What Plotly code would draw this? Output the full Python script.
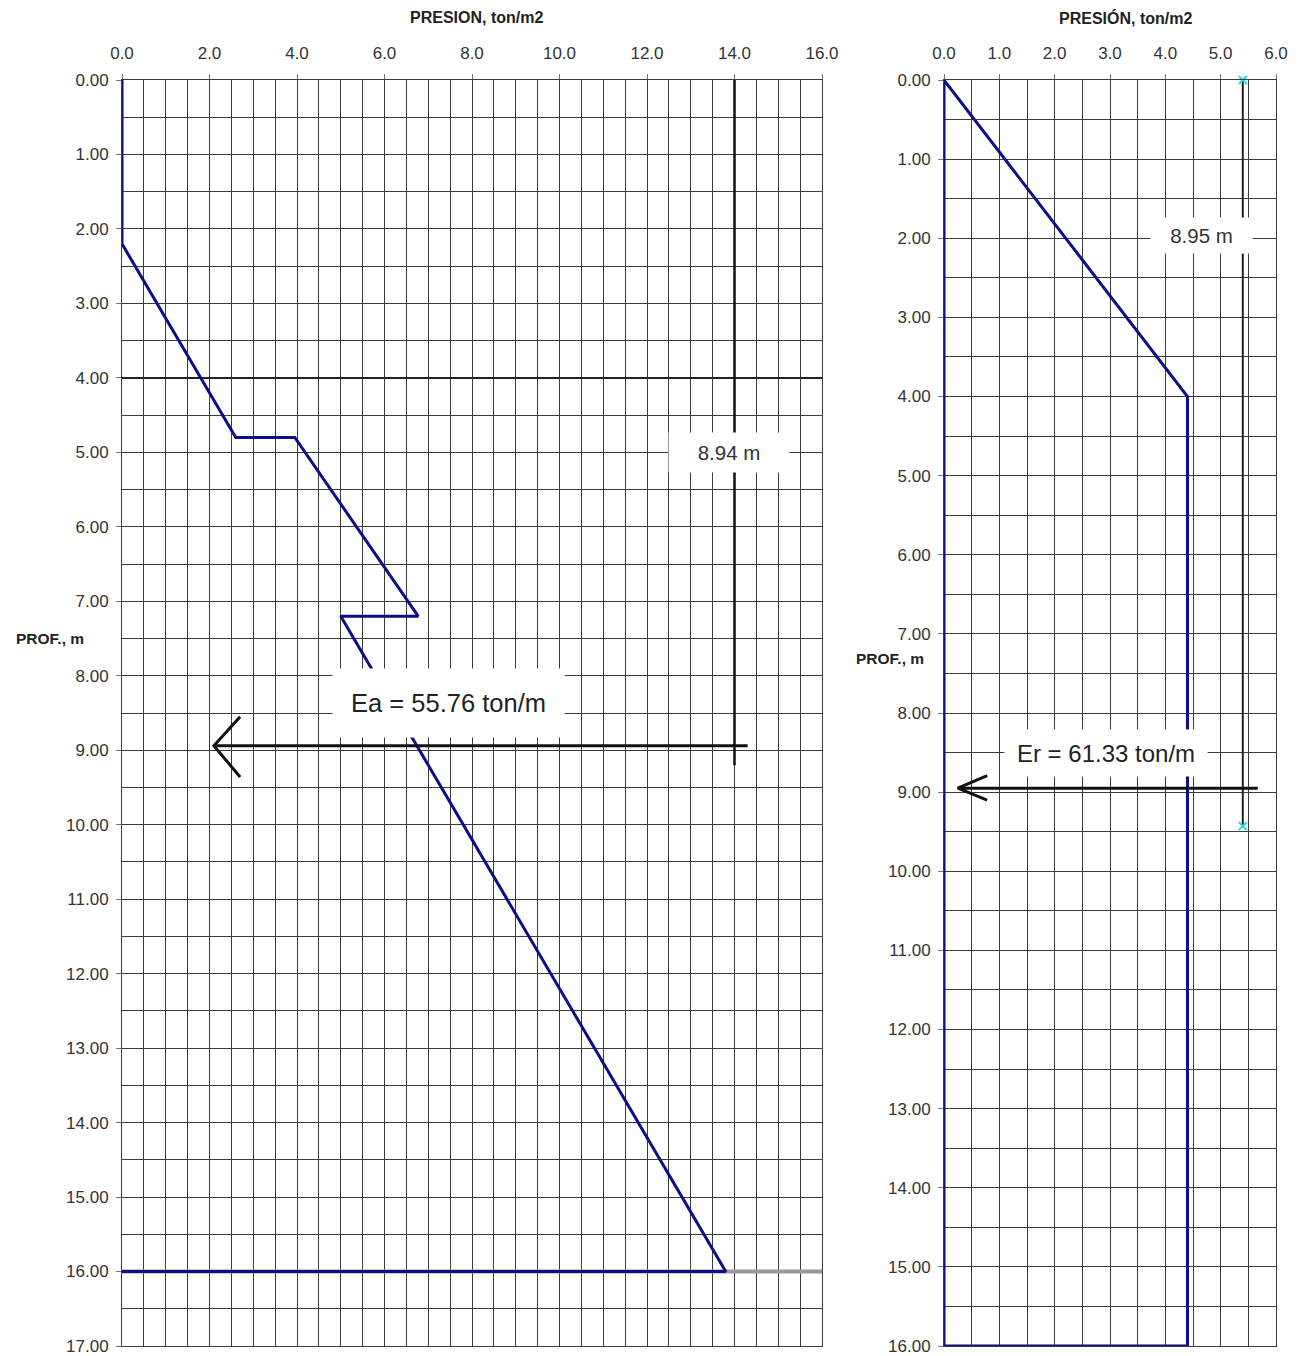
import plotly.graph_objects as go

# ---------------- data ----------------
# Left chart (active pressure)
left_press = [0.0, 0.0, 2.6, 3.95, 6.77, 5.0, 13.8, 0.0]
left_depth = [0.0, 2.2, 4.8, 4.8, 7.2, 7.2, 16.0, 16.0]

left_res_x = [14.0, 14.0]           # vertical reference line at resultant
left_res_y = [0.0, 9.2]
left_arrow_x = [14.3, 2.1]          # resultant arrow shaft
left_arrow_y = [8.94, 8.94]
left_head_x = [2.7, 2.1, 2.7]       # arrow head
left_head_y = [8.55, 8.94, 9.36]
left_h4_x = [0.0, 16.0]             # dark horizontal line at 4 m
left_h4_y = [4.0, 4.0]
left_h16_x = [0.0, 16.0]            # grey base line at 16 m
left_h16_y = [16.0, 16.0]

# Right chart (passive pressure)
right_press = [0.0, 4.4, 4.4, 0.0, 0.0]
right_depth = [0.0, 4.0, 16.0, 16.0, 0.0]

right_res_x = [5.4, 5.4]
right_res_y = [0.0, 9.43]
right_mark_x = [5.4, 5.4]
right_mark_y = [0.0, 9.43]
right_arrow_x = [5.67, 0.25]
right_arrow_y = [8.95, 8.95]
right_head_x = [0.78, 0.25, 0.78]
right_head_y = [8.79, 8.95, 9.10]

left_xticks = [0, 2, 4, 6, 8, 10, 12, 14, 16]
left_yticks = list(range(0, 18))
right_xticks = [0, 1, 2, 3, 4, 5, 6]
right_yticks = list(range(0, 17))

ea_text = "Ea = 55.76 ton/m"
ea_depth_text = "8.94 m"
er_text = "Er = 61.33 ton/m"
er_depth_text = "8.95 m"

# ---------------- figure ----------------
# the page body has an 8 px default margin; the figure starts at (8, 8)
OFF = 8
W, H = 1306 - 2 * OFF, 1356 - OFF
FONT = "Liberation Sans, Arial, sans-serif"
BLUE = "#0d0d85"
GRID = "#3c3c3c"


def px(x):
    return (x - OFF) / W


def py(y):
    return 1 - (y - OFF) / H


fig = go.Figure()


def line(x, y, xa, ya, color, width):
    fig.add_trace(go.Scatter(x=x, y=y, xaxis=xa, yaxis=ya, mode="lines",
                             line=dict(color=color, width=width),
                             hoverinfo="skip", showlegend=False))


# left
line(left_h16_x, left_h16_y, "x", "y", "#9a9a9a", 4)
line(left_h4_x, left_h4_y, "x", "y", "#222222", 2)
line(left_res_x, left_res_y, "x", "y", "#111111", 2.5)
line(left_press, left_depth, "x", "y", BLUE, 3)
line(left_arrow_x, left_arrow_y, "x", "y", "#111111", 3)
line(left_head_x, left_head_y, "x", "y", "#111111", 3)

# right
line(right_res_x, right_res_y, "x2", "y2", "#222222", 2)
line(right_press, right_depth, "x2", "y2", BLUE, 3)
line(right_arrow_x, right_arrow_y, "x2", "y2", "#111111", 3)
line(right_head_x, right_head_y, "x2", "y2", "#111111", 3)
fig.add_trace(go.Scatter(x=right_mark_x, y=right_mark_y, xaxis="x2", yaxis="y2",
                         mode="markers", cliponaxis=False,
                         marker=dict(symbol="x-thin", size=8,
                                     line=dict(color="#2fd6e0", width=2)),
                         hoverinfo="skip", showlegend=False))

ydom = [py(1346), py(80)]
tickfont = dict(family=FONT, size=17, color="#333333")


def xax(domain, rng, ticks, anchor):
    return dict(domain=domain, range=rng, side="top", anchor=anchor,
                automargin=False,
                tickvals=ticks, tickformat=".1f", tickfont=tickfont,
                ticks="outside", ticklen=5, tickcolor="#777777",
                ticklabelstandoff=8,
                showgrid=True, gridcolor=GRID, gridwidth=1,
                minor=dict(dtick=0.5, tick0=0, showgrid=True, gridcolor=GRID, gridwidth=1),
                showline=True, linecolor=GRID, linewidth=1, mirror=True,
                zeroline=False, fixedrange=True)


def yax(rng, ticks, anchor):
    return dict(domain=ydom, range=rng, anchor=anchor,
                automargin=False,
                tickvals=ticks, tickformat=".2f", tickfont=tickfont,
                ticks="outside", ticklen=5, tickcolor="#777777",
                ticklabelstandoff=4,
                showgrid=True, gridcolor=GRID, gridwidth=1,
                minor=dict(dtick=0.5, tick0=0, showgrid=True, gridcolor=GRID, gridwidth=1),
                showline=True, linecolor=GRID, linewidth=1, mirror=True,
                zeroline=False, fixedrange=True)


fig.update_layout(
    width=W, height=H,
    margin=dict(l=0, r=0, t=0, b=0),
    paper_bgcolor="white", plot_bgcolor="white",
    font=dict(family=FONT, color="#222222"),
    xaxis=xax([px(122), px(822)], [0, 16], left_xticks, "y"),
    yaxis=yax([17, 0], left_yticks, "x"),
    xaxis2=xax([px(944), px(1276)], [0, 6], right_xticks, "y2"),
    yaxis2=yax([16, 0], right_yticks, "x2"),
)

title_font = dict(family=FONT, size=16, color="#222222")
small_title = dict(family=FONT, size=15.5, color="#222222")
C = dict(showarrow=False, xanchor="center", yanchor="middle")
anns = [
    dict(xref="paper", yref="paper", x=px(476), y=py(18), text="<b>PRESION, ton/m2</b>",
         font=title_font, **C),
    dict(xref="paper", yref="paper", x=px(1125), y=py(18), text="<b>PRESIÓN, ton/m2</b>",
         font=title_font, **C),
    dict(xref="paper", yref="paper", x=px(50), y=py(639), text="<b>PROF., m</b>",
         font=small_title, **C),
    dict(xref="paper", yref="paper", x=px(890), y=py(658), text="<b>PROF., m</b>",
         font=small_title, **C),
    dict(xref="x", yref="y", x=13.87, y=5.0, text=ea_depth_text,
         bgcolor="white", width=118, height=37, borderpad=1,
         font=dict(family=FONT, size=20.5, color="#333333"), **C),
    dict(xref="x", yref="y", x=7.47, y=8.37, text=ea_text,
         bgcolor="white", width=229, height=66, borderpad=1,
         font=dict(family=FONT, size=25.5, color="#222222"), **C),
    dict(xref="x2", yref="y2", x=4.66, y=1.97, text=er_depth_text,
         bgcolor="white", width=99, height=33, borderpad=1,
         font=dict(family=FONT, size=20.5, color="#333333"), **C),
    dict(xref="x2", yref="y2", x=2.93, y=8.5, text=er_text,
         bgcolor="white", width=200, height=44, borderpad=1,
         font=dict(family=FONT, size=24, color="#222222"), **C),
]
fig.update_layout(annotations=anns)

fig.write_html("out.html")
